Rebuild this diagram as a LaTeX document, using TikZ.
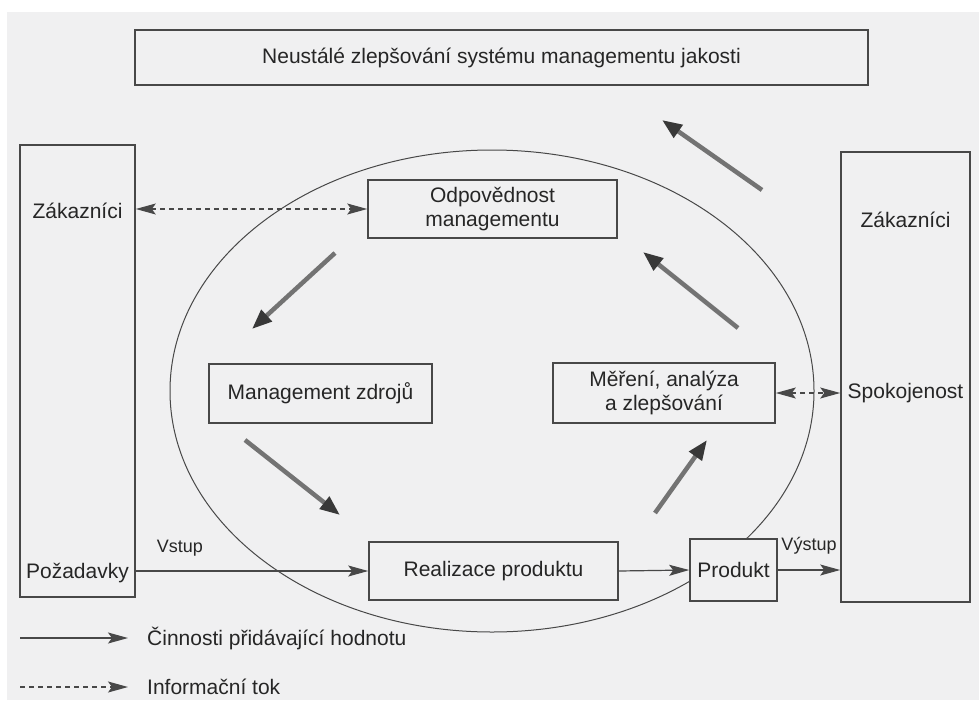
\documentclass[tikz,border=0pt]{standalone}
\usepackage{fontspec}
\setmainfont{Liberation Sans}
\usetikzlibrary{arrows.meta}

\definecolor{paper}{RGB}{240,240,241}
\definecolor{ink}{RGB}{72,72,72}

\tikzset{
	box/.style={draw=ink, line width=1.6pt, fill=paper, inner sep=0pt, align=center, text=black!85, font=\fontsize{21}{24}\selectfont},
	txt/.style={inner sep=0pt, text=black!85, font=\fontsize{21}{24}\selectfont},
	lbl/.style={inner sep=0pt, text=black!85, font=\fontsize{18}{21}\selectfont},
	flow/.style={draw=ink, line width=1.2pt, -{Stealth[length=20pt,width=11pt,inset=4pt]}},
	info/.style={flow, dash pattern=on 5pt off 4pt},
	infoboth/.style={info, {Stealth[length=20pt,width=11pt,inset=4pt]}-{Stealth[length=20pt,width=11pt,inset=4pt]}},
	value/.style={draw=black!55, line width=4.5pt, -{Triangle[length=20pt,width=15pt,color=black!78]}},
}

\begin{document}
\begin{tikzpicture}[x=1pt, y=-1pt]
	
	\useasboundingbox (0,0) rectangle (979,704);
	\fill[white] (0,0) rectangle (979,704);
	\fill[paper] (7,12) rectangle (979,700);
	
	\draw[ink, line width=1pt] (492,391) ellipse [x radius=322, y radius=241];
	
	\node[box, minimum width=733pt, minimum height=55pt] (goal) at (501.5,57.5) {Neustálé zlepšování systému managementu jakosti};
	\node[box, minimum width=115pt, minimum height=452pt] (custL) at (77.5,371) {};
	\node[box, minimum width=129pt, minimum height=450pt] (custR) at (905.5,377) {};
	\node[txt] (zakL) at (77.5,211) {Zákazníci};
	\node[txt] (pozad) at (77.5,573) {Požadavky};
	\node[txt] (zakR) at (905.5,220) {Zákazníci};
	\node[txt] (spok) at (905.5,393) {Spokojenost};
	
	\node[box, minimum width=249pt, minimum height=58pt] (odp) at (492.5,209) {Odpovědnost\\managementu};
	\node[box, minimum width=223pt, minimum height=59pt] (zdroje) at (320.5,393.5) {Management zdrojů};
	\node[box, minimum width=222pt, minimum height=60pt] (mereni) at (664,393) {Měření, analýza\\a zlepšování};
	\node[box, minimum width=249pt, minimum height=58pt] (real) at (493.5,571) {Realizace produktu};
	\node[box, minimum width=87pt, minimum height=62pt] (prod) at (733.5,570) {Produkt};
	
	\draw[infoboth] (custL.east |- odp.west) -- (odp.west);
	\draw[infoboth] (mereni.east) -- (custR.west |- mereni.east);
	\draw[flow] (custL.east |- real.west) -- (real.west) node[lbl, pos=0.19, above=14pt] {Vstup};
	\draw[flow] (real.east) -- (prod.west);
	\draw[flow] (prod.east) -- (custR.west |- prod.east) node[lbl, midway, above=15pt] {Výstup};
	
	\coordinate (v1a) at (335,253);
	\coordinate (v1b) at (252,329);
	\coordinate (v2a) at (245,440);
	\coordinate (v2b) at (340,515);
	\coordinate (v3a) at (655,513);
	\coordinate (v3b) at (707,440);
	\coordinate (v4a) at (738,328);
	\coordinate (v4b) at (643,252);
	\coordinate (v5a) at (762,190);
	\coordinate (v5b) at (662,120);
	\draw[value] (v1a) -- (v1b);
	\draw[value] (v2a) -- (v2b);
	\draw[value] (v3a) -- (v3b);
	\draw[value] (v4a) -- (v4b);
	\draw[value] (v5a) -- (v5b);
	
	\coordinate (leg1) at (20,638);
	\coordinate (leg2) at (20,687);
	\node[txt, anchor=west] (legval) at (147,638) {Činnosti přidávající hodnotu};
	\node[txt, anchor=west] (leginfo) at (147,687) {Informační tok};
	\draw[flow] (leg1) -- ([xshift=-19pt]legval.west);
	\draw[info] (leg2) -- ([xshift=-19pt]leginfo.west);
	
\end{tikzpicture}
\end{document}
